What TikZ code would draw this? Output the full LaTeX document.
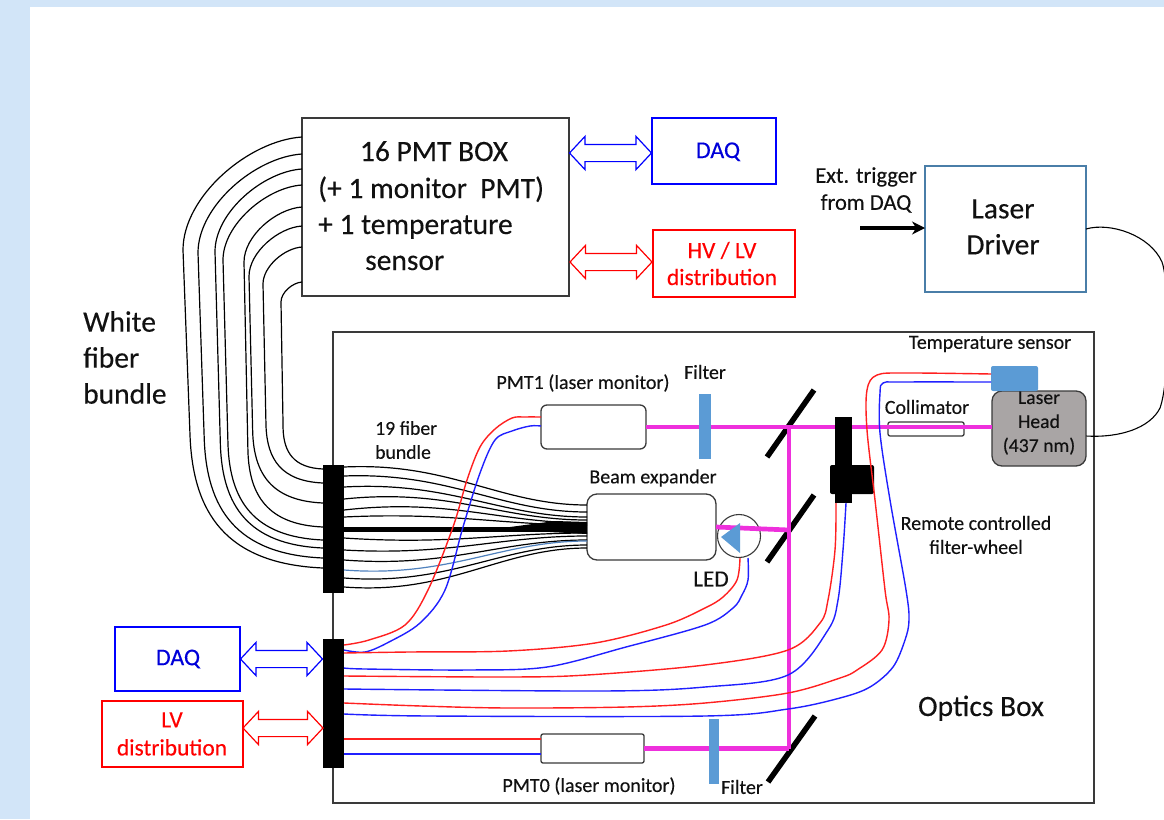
\documentclass[tikz,border=0pt]{standalone}
\usepackage{fontspec}
\setmainfont[FakeBold=.25]{Carlito}
\usetikzlibrary{arrows.meta,positioning,calc,shapes.arrows,shapes.geometric}
\definecolor{pagebg}{HTML}{D2E5F8}
\definecolor{beampink}{HTML}{EE30DC}
\definecolor{partblue}{HTML}{5B9BD5}
\definecolor{headgray}{HTML}{A9A5A5}
\definecolor{linegray}{HTML}{3A3A3A}
\definecolor{driverblue}{HTML}{4A7EA8}
\definecolor{fiberblue}{HTML}{4F81BD}
\definecolor{wirered}{HTML}{FF2020}
\definecolor{wireblue}{HTML}{2020FF}
\definecolor{txt}{HTML}{111111}
\tikzset{
  plainbox/.style={draw=linegray,line width=1.3pt,inner sep=0pt,outer sep=0pt,fill=white},
  roundbox/.style={plainbox,rounded corners=6pt},
  barbox/.style={fill=black,inner sep=0pt,outer sep=0pt},
  label/.style={inner sep=0pt,text=txt,font=\fontsize{20}{24}\selectfont,align=center},
  biglabel/.style={inner sep=0pt,text=txt,font=\fontsize{29.5}{36}\selectfont,align=left},
  dblarrow/.style={double arrow,fill=white,line width=1.2pt,inner xsep=0pt,inner ysep=8pt,outer sep=0pt,
    minimum width=32pt,double arrow head extend=8pt,double arrow tip angle=94},
  fiber/.style={black,line width=1.2pt},
  beam/.style={beampink,line width=4.7pt},
  mirror/.style={black,line width=5.5pt},
  redwire/.style={wirered,line width=1.4pt},
  bluewire/.style={wireblue,line width=1.4pt},
}
\begin{document}
\begin{tikzpicture}[x=1pt,y=-1pt]
\useasboundingbox (0,0) rectangle (1164,819);
\clip (0,0) rectangle (1164,819);
\fill[pagebg] (0,0) rectangle (1164,819);
\fill[white] (30,7) rectangle (1164,819);
% top boxes
\node[plainbox,minimum width=267pt,minimum height=178pt] (pmtbox) at (435.5,207) {};
\node[plainbox,draw=blue,minimum width=124pt,minimum height=66pt] (daqtop) at (714,151) {};
\node[plainbox,draw=red,minimum width=142pt,minimum height=67pt] (hvbox) at (724,263.5) {};
\node[plainbox,draw=driverblue,minimum width=161pt,minimum height=126pt] (driver) at (1005.5,229) {};
\node[plainbox,draw=blue,minimum width=125pt,minimum height=64pt] (daqlow) at (177.5,659) {};
\node[plainbox,draw=red,minimum width=141pt,minimum height=66pt] (lvbox) at (172.5,734) {};
\node[dblarrow,draw=blue,minimum height=82pt] (daqtoplink) at ($(pmtbox.east |- 0,153)!.5!(daqtop.west |- 0,153)$) {};
\node[dblarrow,draw=red,minimum height=82pt] (hvlink) at ($(pmtbox.east |- 0,262)!.5!(hvbox.west |- 0,262)$) {};
\node[biglabel,anchor=base] (pmtline1) at (434,161) {16 PMT BOX};
\node[biglabel,anchor=base west] (pmtline2) at (318,198) {(+ 1 monitor\ \ PMT)};
\node[biglabel,anchor=base west] (pmtline3) at (318,234) {+ 1 temperature};
\node[biglabel,anchor=base west] (pmtline4) at (365,270) {sensor};
\node[biglabel,text=blue!85!black,font=\fontsize{24}{26}\selectfont,anchor=base] (daqtext) at (718,158) {DAQ};
\node[label,text=red,font=\fontsize{23.4}{27}\selectfont] (hvtext) at (722,263.5) {HV / LV\\distribution};
\node[biglabel,align=center] (drivertext) at (1003,227) {Laser\\Driver};
\node[label,font=\fontsize{22.5}{27}\selectfont] (exttext) at (866,190) {Ext. trigger\\from DAQ};
\coordinate (trigstart) at (860,228);
\draw[black,line width=3.5pt,-{Stealth[length=13pt,width=13pt]}] (trigstart) -- (trigstart -| driver.west);
\node[biglabel,anchor=west] (whitetext) at (83,357.5) {White\\fiber\\bundle};
% optics box
\node[draw=linegray,line width=1.4pt,inner sep=0pt,outer sep=0pt,minimum width=761pt,minimum height=471pt] (optics) at (713.5,567.5) {};
\node[biglabel,anchor=base] (opticstext) at (981,716) {Optics Box};
% laser cables leaving the page
\draw[black,line width=1.1pt] (driver.east) .. controls (1110,222) and (1150,235) .. (1162,262) .. controls (1170,285) and (1170,380) .. (1160,408) .. controls (1150,428) and (1120,438) .. (1086,436);
% parts
\node[plainbox,roundbox,minimum width=105pt,minimum height=44pt] (pmtone) at (593.5,427) {};
\node[plainbox,roundbox,rounded corners=2pt,minimum width=103pt,minimum height=29pt] (pmtzero) at (592.5,748.5) {};
\node[plainbox,roundbox,rounded corners=10pt,minimum width=129pt,minimum height=66pt] (expander) at (651.5,527) {};
\node[plainbox,rounded corners=2pt,minimum width=76pt,minimum height=14pt] (collimator) at (926,429) {};
\node[circle,draw=linegray,line width=1.1pt,inner sep=0pt,outer sep=0pt,minimum size=43pt] (led) at (739,536) {};
\node[plainbox,rounded corners=10pt,fill=headgray,minimum width=94pt,minimum height=75pt] (head) at (1039,428.5) {};
\node[label,font=\fontsize{19.7}{24}\selectfont] (headtext) at (1039,423) {Laser\\Head\\(437 nm)};
\node[fill=partblue,rounded corners=2pt,inner sep=0pt,outer sep=0pt,minimum width=47pt,minimum height=25pt] (tempsensor) at (1014.5,378.5) {};
% beam
\coordinate (mirrortop) at (789,427);
\coordinate (mirrormid) at (789,530);
\coordinate (mirrorbot) at (789,748.5);
\draw[mirror] (767,457) -- (814,390);
\draw[mirror] (767,562) -- (814,495);
\draw[mirror] (768,782) -- (815,716);
\draw[beam] (pmtone.east) -- (pmtone.east -| head.west);
\draw[beam] (mirrortop) -- (mirrorbot);
\draw[beam] (pmtzero.east) -- (mirrorbot);
\draw[beam] (expander.east) -- (mirrormid);
\node[fill=partblue,inner sep=0pt,outer sep=0pt,minimum width=12pt,minimum height=65pt] (filterone) at (705,426.5) {};
\node[fill=partblue,inner sep=0pt,outer sep=0pt,minimum width=10pt,minimum height=65pt] (filterzero) at (714,751.5) {};
\fill[partblue] (721,537) -- (740,523) -- (740,553) -- cycle;
% filter wheel
\node[barbox,minimum width=17pt,minimum height=86pt] (wheelaxis) at (843.5,460) {};
\node[barbox,rounded corners=2pt,minimum width=44pt,minimum height=29pt] (wheel) at (852,479.5) {};
% fibers, box to bar
\node[barbox,minimum width=21pt,minimum height=128pt] (bartop) at (333.5,529) {};
\node[barbox,minimum width=21pt,minimum height=129pt] (barlow) at (333.5,703.5) {};
\foreach \ya/\xm/\yb in {137/183/568,154/198/558,169/215/548,185/223/540,207/244/527,226/249/503,247/263/483,282/281/469} {
  \pgfmathsetmacro{\dd}{302-\xm}
  \pgfmathsetmacro{\rr}{323-\xm}
  \draw[fiber] (pmtbox.west |- 0,\ya) .. controls ({302-.45*\dd},{\ya+.03*\dd}) and (\xm,{\ya+.5*\dd}) .. (\xm,{\ya+.95*\dd})
    -- ({\xm+.05*\rr},{\yb-.95*\rr}) .. controls ({\xm+.07*\rr},{\yb-.4*\rr}) and ({323-.7*\rr},{\yb-.03*\rr}) .. (bartop.west |- 0,\yb);
}
% 19 fibers, bar to expander
\foreach \ya/\yc/\yb in {467/462/505,476/472/512,487/481/517,499/488/520,510/498/523,517/512/525,538/545/533,550/556/536,560/568/540,578/586/545,587/595/548}
  \draw[fiber] (bartop.east |- 0,\ya) .. controls (450,\yc) and (500,\yb) .. (expander.west |- 0,\yb);
\draw[fiberblue,line width=1.2pt] (bartop.east |- 0,570) .. controls (450,578) and (500,541) .. (expander.west |- 0,541);
\draw[black,line width=5pt] (bartop.east |- 0,529) -- (expander.west |- 0,529);
\fill[black] (510,527) -- (555,521) -- (expander.west |- 0,522) -- (expander.west |- 0,534) -- (550,532) -- cycle;
% wires
\draw[redwire] plot[smooth,tension=.55] coordinates {(pmtone.west |- 0,417) (525,417) (512,418) (495,429) (480,447) (467,480) (453,527) (428,590) (405,625) (369,640) (barlow.east |- 0,645)};
\draw[bluewire] plot[smooth,tension=.55] coordinates {(pmtone.west |- 0,426) (530,426) (512,431) (495,440) (480,473) (463,527) (445,590) (420,623) (389,642) (365,652) (barlow.east |- 0,650)};
\draw[redwire] plot[smooth,tension=.55] coordinates {(740,558) (737,580) (723,597) (705,608) (666,625) (595,643) (508,651) (409,652) (barlow.east |- 0,653)};
\draw[bluewire] plot[smooth,tension=.55] coordinates {(748,558) (748,580) (742,595) (733,608) (705,625) (626,647) (547,667) (468,670) (365,669) (barlow.east |- 0,668)};
\draw[redwire] plot[smooth,tension=.55] coordinates {(836,503) (835,550) (828,600) (820,623) (788,650) (705,665) (587,675) (508,677) (barlow.east |- 0,676)};
\draw[bluewire] plot[smooth,tension=.55] coordinates {(846,503) (843,550) (838,600) (828,630) (788,675) (705,687) (602,691) (barlow.east |- 0,689)};
\draw[redwire] plot[smooth,tension=.55] coordinates {(tempsensor.west |- 0,374) (907,373) (877,375) (867,390) (867,430) (875,500) (885,590) (889,620) (882,650) (857,670) (840,678) (788,693) (705,703) (626,707) (508,708) (421,706) (barlow.east |- 0,703)};
\draw[bluewire] plot[smooth,tension=.55] coordinates {(tempsensor.west |- 0,382) (900,382) (883,383) (880,393) (880,433) (890,500) (906,590) (909,620) (905,640) (893,667) (870,687) (840,698) (788,709) (705,716) (429,716) (barlow.east |- 0,714)};
\draw[redwire] (barlow.east |- 0,739) -- (pmtzero.west |- 0,739);
\draw[bluewire] (barlow.east |- 0,754) -- (pmtzero.west |- 0,754);
% lower links
\node[dblarrow,draw=blue,minimum height=82pt] (daqlowlink) at ($(daqlow.east)!.5!(daqlow.east -| barlow.west)$) {};
\node[dblarrow,draw=red,minimum height=80pt] (lvlink) at ($(lvbox.east |- 0,728)!.5!(barlow.west |- 0,728)$) {};
\node[label,text=blue!85!black,font=\fontsize{24}{26}\selectfont] (daqlowtext) at (178,659) {DAQ};
\node[label,text=red,font=\fontsize{23.4}{28}\selectfont] (lvtext) at (172,734) {LV\\distribution};
% labels
\node[label,align=left,font=\fontsize{19.7}{24}\selectfont,anchor=west] (bundletext) at (375,440) {19 fiber\\bundle};
\node[label] (pmtonetext) at (583,383) {PMT1 (laser monitor)};
\node[label] (filteronetext) at (705,372) {Filter};
\node[label] (expandertext) at (653,478) {Beam expander};
\node[label,font=\fontsize{23.3}{24}\selectfont] (ledtext) at (711,579) {LED};
\node[label] (tempsensortext) at (990,344) {Temperature sensor};
\node[label] (collimatortext) at (927,407) {Collimator};
\node[label] (wheeltext) at (976,535) {Remote controlled\\filter-wheel};
\node[label] (pmtzerotext) at (589,786) {PMT0 (laser monitor)};
\node[label] (filterzerotext) at (742,787) {Filter};
\end{tikzpicture}
\end{document}
